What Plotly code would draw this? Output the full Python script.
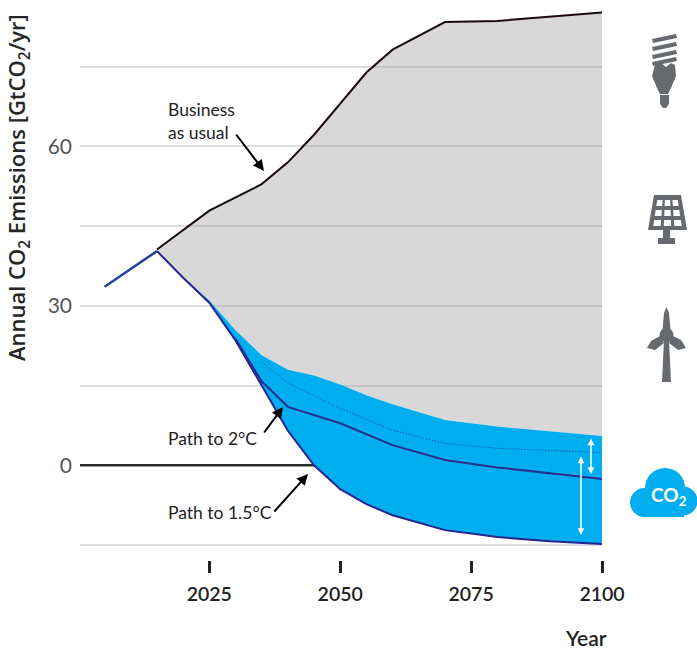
import plotly.graph_objects as go

bau_years = [2005, 2015, 2025, 2035, 2040, 2045, 2055, 2060, 2070, 2080, 2100]
bau_values = [33.6, 40.6, 47.9, 52.9, 57.0, 62.2, 73.9, 78.2, 83.4, 83.6, 85.2]
early_years = [2005, 2015]
early_values = [33.6, 40.3]
top_years = [2015, 2020, 2025, 2030, 2035, 2040, 2045, 2050, 2055, 2060, 2070, 2080, 2100]
top_values = [40.3, 35.3, 31.0, 25.4, 20.7, 18.0, 16.9, 15.2, 13.2, 11.5, 8.5, 7.3, 5.5]
dotted_years = [2035, 2040, 2050, 2060, 2070, 2080, 2100]
dotted_values = [19.4, 15.5, 10.7, 6.6, 4.1, 3.2, 2.4]
mid_years = [2030, 2035, 2040, 2050, 2060, 2070, 2080, 2090, 2100]
mid_values = [23.8, 15.8, 11.0, 7.9, 3.8, 1.0, -0.4, -1.5, -2.6]
low_years = [2015, 2020, 2025, 2030, 2035, 2040, 2045, 2050, 2055, 2060, 2070, 2080, 2090, 2100]
low_values = [40.3, 35.3, 30.6, 23.5, 15.0, 6.5, 0.0, -4.5, -7.3, -9.4, -12.2, -13.5, -14.3, -14.8]
zero_years = [2000.3, 2045]
zero_values = [0, 0]
x_ticks = [2025, 2050, 2075, 2100]
y_ticks = [-15, 0, 15, 30, 45, 60, 75]
y_labels = ["", "0", "", "30", "", "60", ""]

W, H = 697, 652
L, R, T, B = 80, 602, 0, 560
XMIN, XMAX = 2000.3, 2100
Y0_PX, Y_SCALE = 465.3, 5.315
YMAX = Y0_PX / Y_SCALE
YMIN = (Y0_PX - B) / Y_SCALE
NARROW = "Lato"
GREY = "#666a6e"
BLUE = "#00AEEF"


def dx(px):
    return XMIN + (px - L) / (R - L) * (XMAX - XMIN)


def dy(py):
    return (Y0_PX - py) / Y_SCALE


def nx(px):
    return (px - L) / (R - L)


def ny(py):
    return (B - py) / (B - T)


def poly(points, color, line=None):
    d = "M" + " L".join(f"{nx(a):.5f},{ny(b):.5f}" for a, b in points) + " Z"
    return dict(type="path", xref="paper", yref="paper", path=d, fillcolor=color,
                line=dict(width=0 if line is None else 1, color=line or color), layer="above")


def circle(cx, cy, r, color):
    return dict(type="circle", xref="paper", yref="paper", x0=nx(cx - r), x1=nx(cx + r),
                y0=ny(cy + r), y1=ny(cy - r), fillcolor=color, line=dict(width=0), layer="above")


def label(px, py, text, size, color="#222", weight=400, family=NARROW, anchor="center", angle=0):
    return dict(x=nx(px), y=ny(py), xref="paper", yref="paper", showarrow=False, xanchor=anchor, yanchor="middle",
                align="left", text=text, textangle=angle, font=dict(family=family, size=size, color=color, weight=weight))


fig = go.Figure()
fig.add_trace(go.Scatter(x=zero_years, y=zero_values, mode="lines", line=dict(color="#2b2b2b", width=2.5)))
fig.add_trace(go.Scatter(x=bau_years[1:] + top_years[::-1], y=bau_values[1:] + top_values[::-1], mode="lines",
                         fill="toself", fillcolor="rgba(153,153,153,0.385)", line=dict(width=0)))
fig.add_trace(go.Scatter(x=top_years + low_years[::-1], y=top_values + low_values[::-1], mode="lines",
                         fill="toself", fillcolor=BLUE, line=dict(width=0)))
fig.add_trace(go.Scatter(x=dotted_years, y=dotted_values, mode="lines",
                         line=dict(color="#26409a", width=1, dash="1px 2px")))
fig.add_trace(go.Scatter(x=mid_years, y=mid_values, mode="lines", line=dict(color="#27308f", width=2)))
fig.add_trace(go.Scatter(x=low_years, y=low_values, mode="lines", line=dict(color="#27238f", width=2)))
fig.add_trace(go.Scatter(x=early_years, y=early_values, mode="lines", line=dict(color="#2440a0", width=2.5)))
fig.add_trace(go.Scatter(x=bau_years[1:], y=bau_values[1:], mode="lines", line=dict(color="#1a0a0a", width=2)))

shapes = []
# light bulb
for y0 in (37, 45, 53, 60):
    shapes.append(poly([(652, y0 + 2), (676, y0 - 3), (677, y0 + 1), (653, y0 + 6)], GREY))
shapes.append(poly([(655, 65), (661, 63), (666, 67), (671, 63), (675, 65), (676, 76), (671, 88), (668, 94),
                    (660, 94), (657, 88), (652, 76)], GREY))
shapes.append(poly([(660, 95), (669, 95), (669, 104), (666, 108), (663, 108), (660, 104)], GREY))
# solar panel
shapes.append(poly([(654, 195), (681, 195), (687, 230), (648, 230)], GREY))
rows = [(200, 206), (210, 216), (220, 226)]
for i, (a, b) in enumerate(rows):
    for j in range(3):
        def xat(f, yy):
            left = 654 - (yy - 195) * 6 / 35 + 3
            right = 681 + (yy - 195) * 6 / 35 - 3
            return left + f * (right - left)
        f0, f1 = j / 3 + 0.05, (j + 1) / 3 - 0.05
        shapes.append(poly([(xat(f0, a), a), (xat(f1, a), a), (xat(f1, b), b), (xat(f0, b), b)], "white"))
shapes.append(poly([(663, 230), (670, 230), (670, 238), (675, 238), (675, 244), (658, 244), (658, 238), (663, 238)], GREY))
# wind turbine
shapes.append(poly([(664, 340), (669, 340), (671, 382), (662, 382)], GREY))
shapes.append(poly([(662.5, 330), (664, 313), (666.5, 307), (669, 313), (670.5, 330)], GREY))
shapes.append(poly([(660, 336), (651, 341), (647, 348), (655, 350), (664, 343)], GREY))
shapes.append(poly([(673, 336), (681, 340), (686, 348), (678, 350), (669, 343)], GREY))
shapes.append(circle(666.5, 335, 7, GREY))
# cloud
shapes.append(circle(644.5, 502.5, 14.5, BLUE))
shapes.append(circle(665, 488, 20, BLUE))
shapes.append(circle(683, 501, 14.5, BLUE))
shapes.append(poly([(644, 500), (684, 500), (684, 517), (644, 517)], BLUE))

annotations = [
    label(18, 188, "Annual CO<sub>2</sub> Emissions [GtCO<sub>2</sub>/yr]", 22, "#262626", 600, "Open Sans", angle=-90),
    label(166, 121, "Business<br>as usual", 17.5, anchor="left"),
    label(166, 438, "Path to 2°C", 17.5, anchor="left"),
    label(166, 512, "Path to 1.5°C", 17.5, anchor="left"),
    label(586, 637, "Year", 21, weight=600),
    label(669, 496, "CO<sub>2</sub>", 19, "white", 700),
]
for (x0, y0, x1, y1) in [(235, 133, 264, 171), (263, 434, 283, 407), (273, 513, 308, 474)]:
    annotations.append(dict(x=dx(x1), y=dy(y1), ax=dx(x0), ay=dy(y0), axref="x", ayref="y", xref="x", yref="y",
                            text="", showarrow=True, arrowhead=2, arrowsize=1.1, arrowwidth=2, arrowcolor="black"))
for (px, y0, y1) in [(581, 455, 535), (591, 437, 474)]:
    annotations.append(dict(x=dx(px), y=dy(y1), ax=dx(px), ay=dy(y0), axref="x", ayref="y", xref="x", yref="y",
                            text="", showarrow=True, arrowhead=2, startarrowhead=2, arrowside="end+start",
                            arrowsize=0.9, startarrowsize=0.9, arrowwidth=1.5, arrowcolor="white"))

fig.update_layout(
    width=W, height=H, autosize=False, showlegend=False,
    paper_bgcolor="white", plot_bgcolor="white",
    margin=dict(l=L, r=W - R, t=T, b=H - B, pad=0),
    shapes=shapes, annotations=annotations,
    xaxis=dict(range=[XMIN, XMAX], tickmode="array", tickvals=x_ticks, ticks="outside", ticklen=12, tickwidth=2.5,
               tickcolor="#222", showgrid=False, zeroline=False, showline=False, ticklabelstandoff=5,
               tickfont=dict(family=NARROW, size=19.5, color="#222", weight=600)),
    yaxis=dict(range=[YMIN, YMAX], tickmode="array", tickvals=y_ticks, ticktext=y_labels, ticks="", showgrid=True,
               gridcolor="#dcdde0", gridwidth=2, zeroline=False, showline=False, ticklabelstandoff=7,
               tickfont=dict(family=NARROW, size=21, color="#555")),
)
fig.write_html("out.html", config={"displayModeBar": False},
               post_script="document.body.style.margin='0';document.body.style.overflow='hidden';")
